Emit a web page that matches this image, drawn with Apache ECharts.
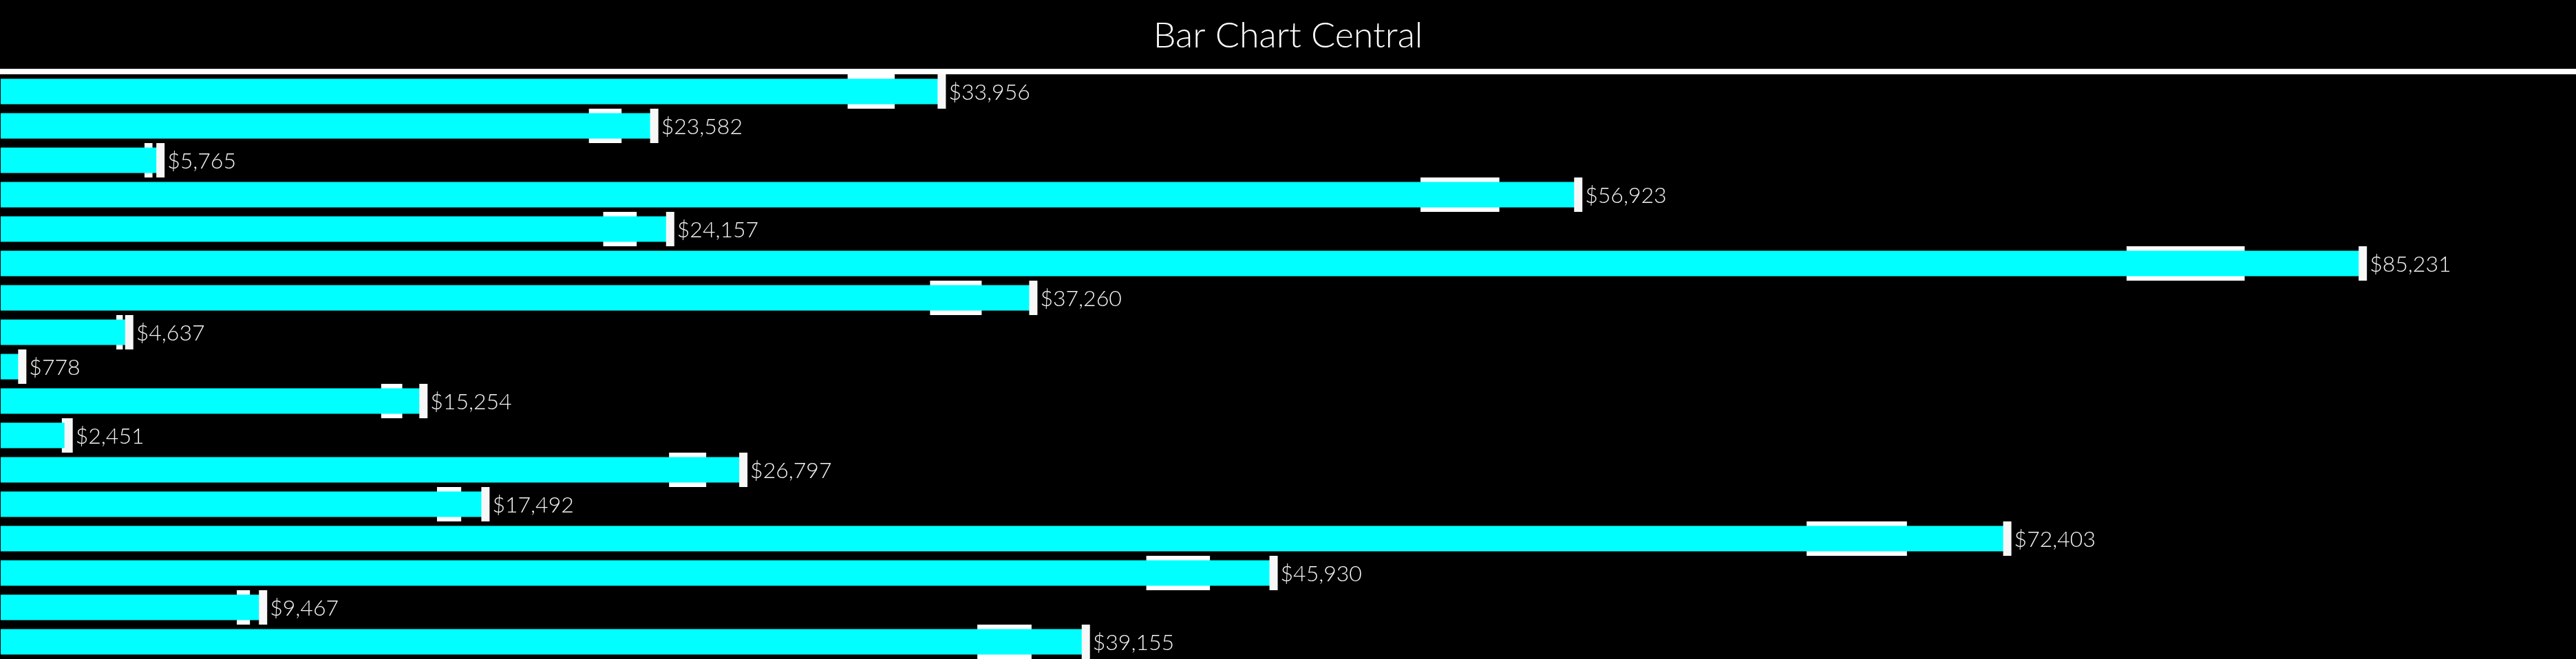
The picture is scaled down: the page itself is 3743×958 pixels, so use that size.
<!DOCTYPE html>
<html>
<head>
<meta charset="utf-8">
<style>
  html, body { margin: 0; padding: 0; background: #000; }
  #chart { width: 3743px; height: 958px; }
</style>
<script src="https://cdn.jsdelivr.net/npm/echarts@6/dist/echarts.min.js"></script>
</head>
<body>
<div id="chart"></div>
<script>
const titleText = 'Bar Chart Central';
const categories = ['1','2','3','4','5','6','7','8','9','10','11','12','13','14','15','16','17'];
const values = [33956, 23582, 5765, 56923, 24157, 85231, 37260, 4637, 778, 15254, 2451, 26797, 17492, 72403, 45930, 9467, 39155];
const bandLow = [30560, 21224, 5189, 51231, 21741, 76708, 33534, 4173, 700, 13729, 2206, 24117, 15743, 65163, 41337, 8520, 35240];
const bandHigh = [32258, 22403, 5477, 54077, 22949, 80969, 35397, 4405, 739, 14491, 2328, 25457, 16617, 68783, 43634, 8994, 37197];

const chart = echarts.init(document.getElementById('chart'), null, { renderer: 'canvas' });

function fmt(v) { return '$' + v.toLocaleString('en-US'); }

const bandData = categories.map((c, i) => [bandLow[i], bandHigh[i], i]);
const tickData = categories.map((c, i) => [values[i], i]);

const option = {
  backgroundColor: '#000000',
  animation: false,
  graphic: [
    {
      type: 'text',
      left: 'center',
      top: 26,
      style: {
        text: titleText,
        fill: '#ffffff',
        font: '300 52px Lato',
      }
    },
    {
      type: 'rect',
      left: 0,
      top: 100,
      shape: { x: 0, y: 0, width: 3743, height: 8 },
      style: { fill: '#ffffff' }
    }
  ],
  grid: { left: 1, right: 1, top: 108, bottom: 0, containLabel: false },
  xAxis: { type: 'value', min: 0, max: 92900, show: false },
  yAxis: { type: 'category', data: categories, inverse: true, show: false },
  series: [
    {
      type: 'custom',
      z: 1,
      data: bandData,
      encode: { x: [0, 1], y: 2 },
      renderItem: function (params, api) {
        const a = api.coord([api.value(0), api.value(2)]);
        const b = api.coord([api.value(1), api.value(2)]);
        const h = api.size([0, 1])[1];
        return {
          type: 'rect',
          shape: { x: a[0], y: a[1] - h / 2, width: b[0] - a[0], height: h },
          style: { fill: '#ffffff' }
        };
      }
    },
    {
      type: 'bar',
      z: 2,
      data: values,
      barWidth: 37,
      itemStyle: { color: '#00FFFF' },
      label: {
        show: true,
        position: 'right',
        distance: 10,
        offset: [0, 2],
        formatter: function (p) { return fmt(p.value); },
        color: '#f2f2f2',
        fontFamily: 'Lato',
        fontWeight: 300,
        fontSize: 32
      }
    },
    {
      type: 'custom',
      z: 3,
      data: tickData,
      encode: { x: 0, y: 1 },
      renderItem: function (params, api) {
        const c = api.coord([api.value(0), api.value(1)]);
        const h = api.size([0, 1])[1];
        return {
          type: 'rect',
          shape: { x: c[0] - 6, y: c[1] - h / 2, width: 12, height: h },
          style: { fill: '#f7f7f7' }
        };
      }
    }
  ]
};
chart.setOption(option);
</script>
</body>
</html>
